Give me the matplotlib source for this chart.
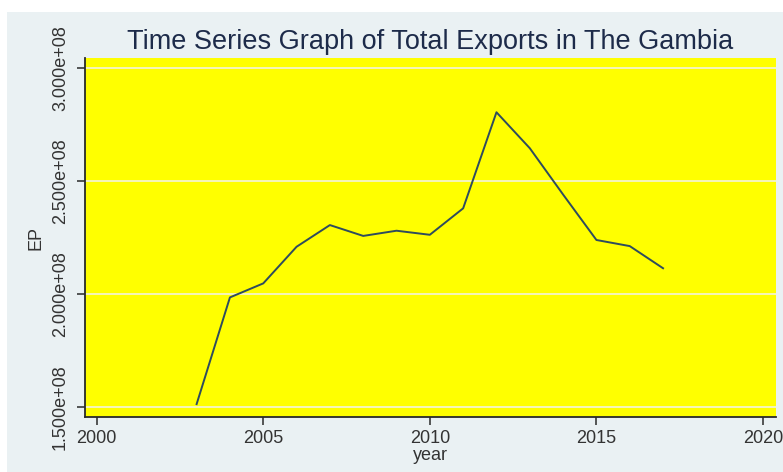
import matplotlib.pyplot as plt
from matplotlib.patches import Rectangle

# Total exports of The Gambia
years = [2003, 2004, 2005, 2006, 2007, 2008, 2009, 2010,
         2011, 2012, 2013, 2014, 2015, 2016, 2017]
exports = [1.513e8, 1.985e8, 2.047e8, 2.209e8, 2.305e8, 2.257e8, 2.280e8, 2.262e8,
           2.379e8, 2.804e8, 2.645e8, 2.440e8, 2.239e8, 2.212e8, 2.114e8]

y_ticks = [1.5e8, 2.0e8, 2.5e8, 3.0e8]
y_tick_labels = ["1.500e+08", "2.000e+08", "2.500e+08", "3.000e+08"]
x_ticks = [2000, 2005, 2010, 2015, 2020]

W, H = 783, 472
plt.rcParams['font.family'] = ['Liberation Sans', 'DejaVu Sans']

fig = plt.figure(figsize=(W / 100, H / 100), dpi=100, facecolor='white')
# stata-like outer region (behind the axes)
fig.patches.append(Rectangle((7 / W, 0), 1 - 7 / W, 1 - 12 / H, transform=fig.transFigure,
                             facecolor='#eaf1f3', edgecolor='none', zorder=-1))

ax = fig.add_axes([85 / W, 1 - 417 / H, (776 - 85) / W, (417 - 58) / H])
ax.set_zorder(1)
ax.set_facecolor('#ffff00')

ax.plot(years, exports, color='#2e4b5e', lw=1.4, zorder=3)

ax.set_xlim(1999.65, 2020.39)
ax.set_ylim(1.456e8, 3.044e8)
ax.set_xticks(x_ticks)
ax.set_yticks(y_ticks)
ax.set_yticklabels(y_tick_labels, rotation=90, va='center')
ax.grid(axis='y', color='#f4f4dc', lw=1.2)
ax.set_axisbelow(True)

for side in ['top', 'right']:
    ax.spines[side].set_visible(False)
for side in ['left', 'bottom']:
    ax.spines[side].set_color('#2a2a2a')
    ax.spines[side].set_linewidth(1.3)

ax.tick_params(axis='both', colors='#2a2a2a', labelcolor='#333333', labelsize=13,
               length=5.5, width=1.1)
ax.tick_params(axis='y', pad=6)
ax.tick_params(axis='x', pad=4)

fig.text(430.5 / W, 1 - 49 / H, "Time Series Graph of Total Exports in The Gambia",
         ha='center', va='baseline', fontsize=19.5, color='#1d2b4a')
fig.text(36 / W, 1 - 238 / H, "EP", rotation=90, ha='center', va='center',
         fontsize=13, color='#333333')
fig.text(430.5 / W, 1 - 455 / H, "year", ha='center', va='center',
         fontsize=13, color='#333333')

fig.savefig("out.png", dpi=100)
